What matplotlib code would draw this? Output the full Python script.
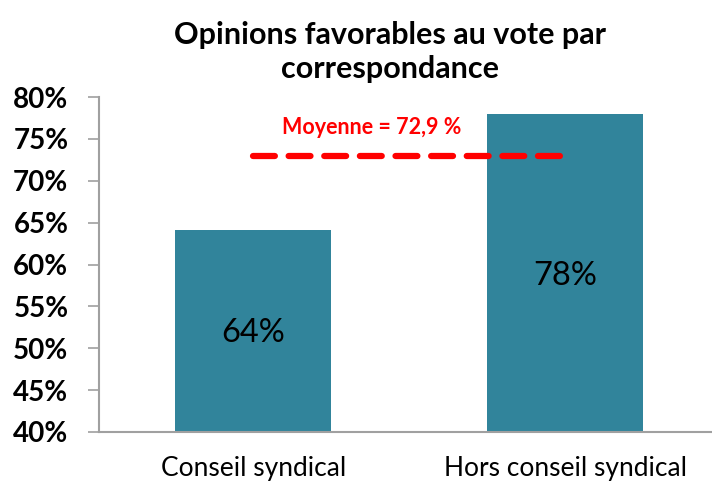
import matplotlib.pyplot as plt
from matplotlib.ticker import FuncFormatter

categories = ["Conseil syndical", "Hors conseil syndical"]
values = [64.1, 78.0]
bar_labels = ["64%", "78%"]
mean_value = 72.9
mean_label = "Moyenne = 72,9 %"
title = "Opinions favorables au vote par\ncorrespondance"

plt.rcParams["font.family"] = ["Lato", "DejaVu Sans"]

fig = plt.figure(figsize=(7.12, 4.82), dpi=100)
ax = fig.add_axes([99 / 712, 50 / 482, 613 / 712, 335 / 482])

x = list(range(len(categories)))
ax.bar(x, values, width=0.5, color="#31849B", zorder=2)
ax.set_ylim(40, 80)
ax.set_xlim(-0.495, 1.47)

# bar values
for xi, lab, yv in zip(x, bar_labels, [51.8, 58.6]):
    ax.text(xi, yv, lab, ha="center", va="center", fontsize=23.5, color="black")

# mean line
ax.plot([0, 1], [mean_value, mean_value], color="#FF0000", lw=4.5,
        dashes=(3.5, 2.2), solid_capstyle="round", dash_capstyle="round", zorder=3)
ax.text(0.38, 76.3, mean_label, color="#FF0000", fontsize=15.5,
        fontweight="bold", ha="center", va="center")

ax.set_yticks(range(40, 81, 5))
ax.yaxis.set_major_formatter(FuncFormatter(lambda v, p: f"{v:.0f}%"))
ax.set_xticks(x)
ax.set_xticklabels(categories, fontsize=19)
for t in ax.get_yticklabels():
    t.set_fontweight("bold")
    t.set_fontsize(20)
ax.tick_params(axis="y", length=8, width=1.2, color="#A0A0A0", pad=14)
ax.tick_params(axis="x", length=0, pad=17)

for s in ["top", "right"]:
    ax.spines[s].set_visible(False)
for s in ["left", "bottom"]:
    ax.spines[s].set_color("#A0A0A0")
    ax.spines[s].set_linewidth(1.5)

fig.text(390 / 712, 1 - 52 / 482, title, ha="center", va="center",
         fontsize=22, fontweight="bold", linespacing=1.3)

fig.savefig("out.png", dpi=100)
